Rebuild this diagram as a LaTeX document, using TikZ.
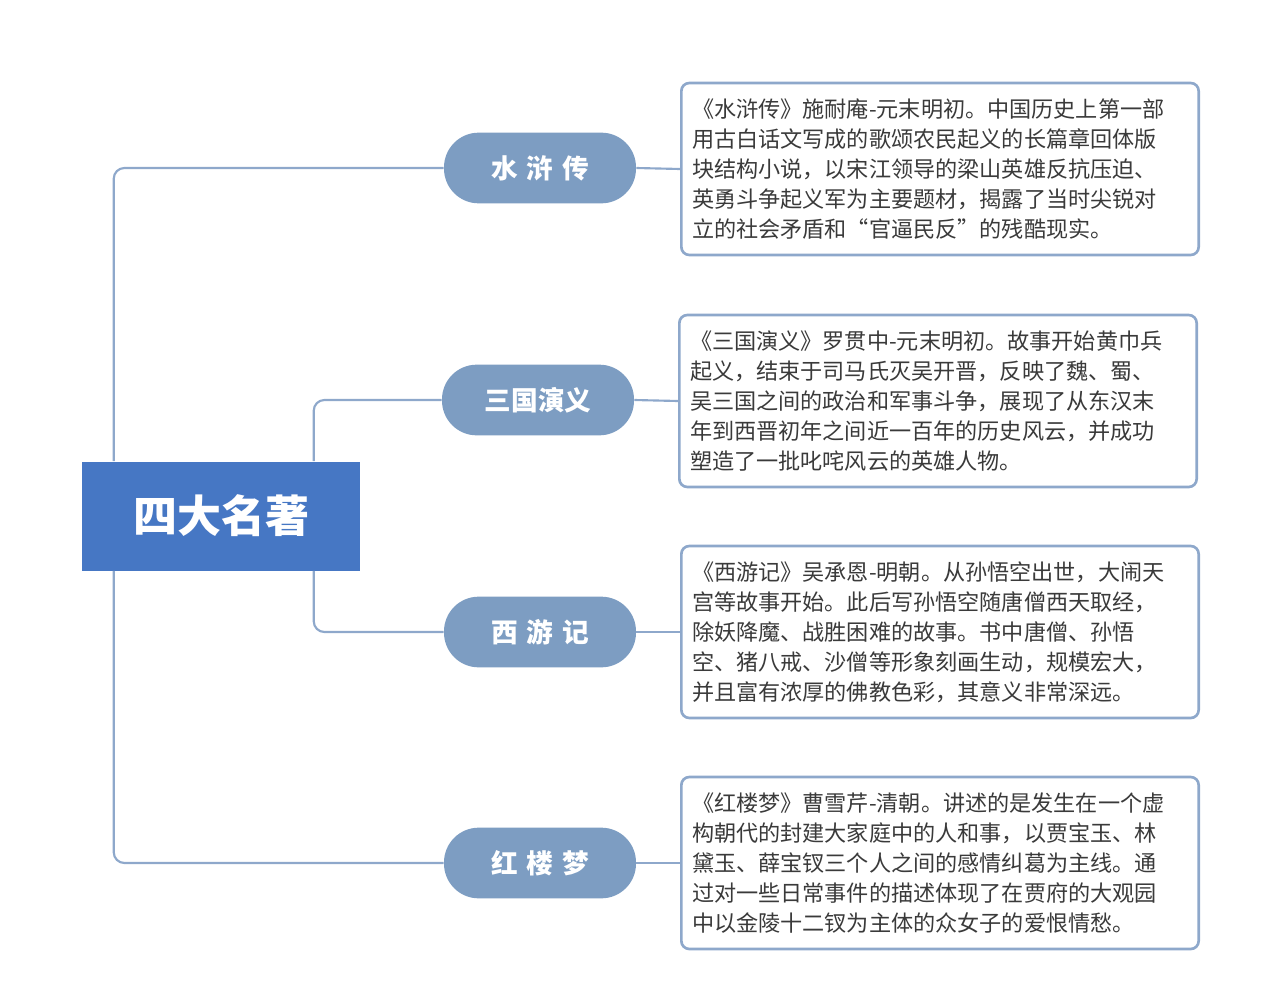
\documentclass[tikz,border=0pt]{standalone}
\usepackage{fontspec}
\setmainfont{Noto Sans CJK SC}
\usetikzlibrary{positioning}
\definecolor{rootblue}{HTML}{4677C4}
\definecolor{branchblue}{HTML}{7D9DC2}
\definecolor{linkblue}{HTML}{8EA8CB}
\definecolor{bodytext}{HTML}{3A3A3A}
\begin{document}
\begin{tikzpicture}[x=0.75pt,y=-0.75pt]
    \tikzset{rootbox/.style={rectangle,fill=rootblue,text=white,minimum width=208.5pt,minimum height=81.75pt,font=\fontsize{33}{36}\selectfont\bfseries},
      branch/.style={rectangle,rounded corners=26pt,fill=branchblue,text=white,minimum width=144pt,minimum height=53pt,font=\fontsize{20}{24}\selectfont\bfseries},
      textbox/.style={rectangle,rounded corners=6pt,draw=linkblue,line width=2pt,fill=white,text=bodytext,align=left,text width=372pt,inner sep=8pt,minimum height=129pt,font=\fontsize{16.6}{22.5}\selectfont},
      link/.style={draw=linkblue,line width=1.6pt,rounded corners=8pt}}
    \useasboundingbox (0,0) rectangle (1280,1002);
    \node[rootbox] (root) at (221,516) {四大名著};
    \node[branch] (shui) at (540,168) {水\,\,浒\,\,传};
    \node[branch] (san) at (538,400) {三国演义};
    \node[branch] (xi) at (540,632) {西\,\,游\,\,记};
    \node[branch] (hong) at (540,863) {红\,\,楼\,\,梦};
    \node[textbox,anchor=west] (shuitext) at (680,169) {《水浒传》施耐庵-元末明初。中国历史上第一部\\用古白话文写成的歌颂农民起义的长篇章回体版\\块结构小说，以宋江领导的梁山英雄反抗压迫、\\英勇斗争起义军为主要题材，揭露了当时尖锐对\\立的社会矛盾和“官逼民反”的残酷现实。};
    \node[textbox,anchor=west] (santext) at (678,401) {《三国演义》罗贯中-元末明初。故事开始黄巾兵\\起义，结束于司马氏灭吴开晋，反映了魏、蜀、\\吴三国之间的政治和军事斗争，展现了从东汉末\\年到西晋初年之间近一百年的历史风云，并成功\\塑造了一批叱咤风云的英雄人物。};
    \node[textbox,anchor=west] (xitext) at (680,632) {《西游记》吴承恩-明朝。从孙悟空出世，大闹天\\宫等故事开始。此后写孙悟空随唐僧西天取经，\\除妖降魔、战胜困难的故事。书中唐僧、孙悟\\空、猪八戒、沙僧等形象刻画生动，规模宏大，\\并且富有浓厚的佛教色彩，其意义非常深远。};
    \node[textbox,anchor=west] (hongtext) at (680,863) {《红楼梦》曹雪芹-清朝。讲述的是发生在一个虚\\构朝代的封建大家庭中的人和事，以贾宝玉、林\\黛玉、薛宝钗三个人之间的感情纠葛为主线。通\\过对一些日常事件的描述体现了在贾府的大观园\\中以金陵十二钗为主体的众女子的爱恨情愁。};
    % connectors from the root
    \draw[link] ([xshift=24pt]root.north west) |- (shui.west);
    \draw[link] ([xshift=174pt]root.north west) |- (san.west);
    \draw[link] ([xshift=174pt]root.south west) |- (xi.west);
    \draw[link] ([xshift=24pt]root.south west) |- (hong.west);
    % branch to text
    \foreach \b in {shui,san,xi,hong}
      \draw[link] (\b.east) -- (\b text.west);
\end{tikzpicture}
\end{document}
